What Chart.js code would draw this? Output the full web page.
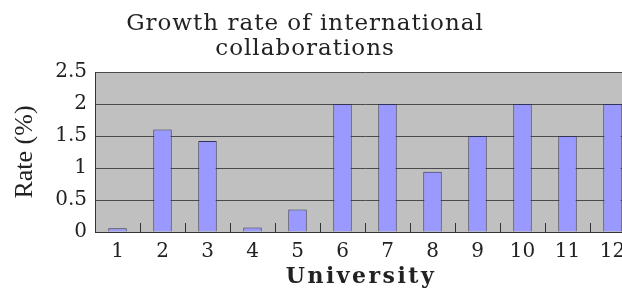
<!DOCTYPE html>
<html><head><meta charset="utf-8">
<script src="https://cdn.jsdelivr.net/npm/chart.js@4/dist/chart.umd.min.js"></script>
<style>html,body{margin:0;padding:0;overflow:hidden;background:#fff;width:622px;height:291px}canvas{display:block}</style>
</head><body>
<canvas id="c" width="660" height="291" style="width:660px;height:291px"></canvas>
<script>
const titleLines = ["Growth rate of international", "collaborations"];
const universities = ["1","2","3","4","5","6","7","8","9","10","11","12"];
const growthRate = [0.06, 1.6, 1.42, 0.07, 0.35, 2.0, 2.0, 0.94, 1.5, 2.0, 1.5, 2.0];
const yTickValues = [0, 0.5, 1, 1.5, 2, 2.5];
const xAxisTitle = "University";
const yAxisTitle = "Rate (%)";

const plotBg = {
  id: 'plotBg',
  beforeDraw(chart) {
    const {ctx, chartArea: a} = chart;
    ctx.save();
    ctx.fillStyle = '#c0c0c0';
    ctx.fillRect(a.left, a.top, a.right - a.left, a.bottom - a.top);
    ctx.restore();
  }
};
const textPlugin = {
  id: 'textPlugin',
  afterDraw(chart) {
    const {ctx, chartArea: a} = chart;
    ctx.save();
    ctx.fillStyle = '#222';
    ctx.textAlign = 'center';
    ctx.textBaseline = 'alphabetic';
    ctx.font = '23px "DejaVu Serif"';
    ctx.letterSpacing = '1px';
    titleLines.forEach((t, i) => ctx.fillText(t, 305, 30 + i * 25));
    ctx.font = 'bold 22px "DejaVu Serif"';
    ctx.letterSpacing = '2.5px';
    ctx.fillText(xAxisTitle, (a.left + a.right) / 2 - 4, 283);
    ctx.restore();
  }
};
const innerTicks = {
  id: 'innerTicks',
  afterDatasetsDraw(chart) {
    const {ctx, scales: {x}, chartArea: a} = chart;
    ctx.save();
    ctx.strokeStyle = '#333';
    ctx.lineWidth = 1;
    for (let i = 0; i < universities.length - 1; i++) {
      const px = Math.round((x.getPixelForValue(i) + x.getPixelForValue(i + 1)) / 2) + 0.5;
      ctx.beginPath();
      ctx.moveTo(px, a.bottom - 9);
      ctx.lineTo(px, a.bottom);
      ctx.stroke();
    }
    ctx.restore();
  }
};

new Chart(document.getElementById('c'), {
  type: 'bar',
  data: {
    labels: universities,
    datasets: [{
      data: growthRate,
      backgroundColor: '#9999ff',
      borderColor: '#333355',
      borderWidth: 1,
      barPercentage: 0.82,
      categoryPercentage: 0.5
    }]
  },
  options: {
    responsive: false,
    animation: false,
    devicePixelRatio: 1,
    layout: {padding: {top: 72, right: 25, left: 0, bottom: 0}},
    plugins: {legend: {display: false}, title: {display: false}, tooltip: {enabled: false}},
    scales: {
      x: {
        grid: {display: false, drawTicks: false},
        border: {display: true, color: '#333', width: 1},
        ticks: {color: '#222', font: {family: 'DejaVu Serif', size: 20}, padding: 8, maxRotation: 0, autoSkip: false},
        title: {display: false},
        afterFit(s) { s.height = 59; }
      },
      y: {
        min: 0, max: 2.5,
        afterBuildTicks(s) { s.ticks = yTickValues.map(v => ({value: v})); },
        grid: {color: '#4a4a4a', lineWidth: 1, drawTicks: false},
        border: {display: true, color: '#333', width: 1},
        ticks: {color: '#222', font: {family: 'DejaVu Serif', size: 20}, padding: 8, callback: v => String(v)},
        title: {display: true, text: yAxisTitle, color: '#222', font: {family: 'Liberation Serif', size: 26}, padding: {top: 10, bottom: 0}},
        afterFit(s) { s.width = 95; }
      }
    }
  },
  plugins: [plotBg, textPlugin, innerTicks]
});
</script>
</body></html>
